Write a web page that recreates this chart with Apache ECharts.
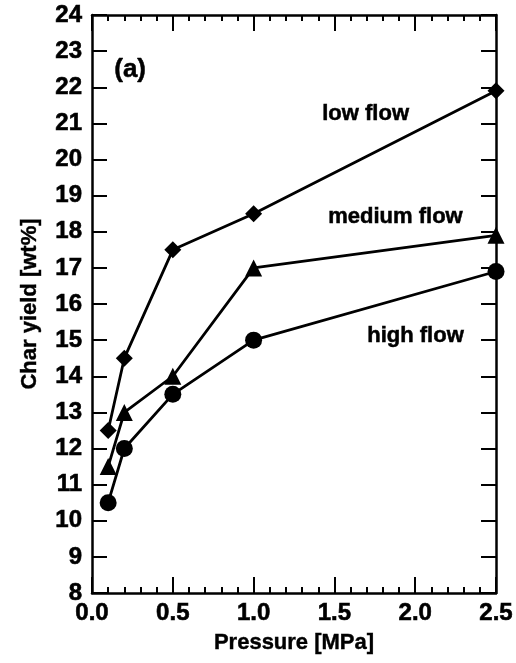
<!DOCTYPE html>
<html>
<head>
<meta charset="utf-8">
<script src="https://cdn.jsdelivr.net/npm/echarts@6/dist/echarts.min.js"></script>
<style>
  html, body { margin: 0; padding: 0; background: #fff; }
  #chart { width: 516px; height: 663px; }
</style>
</head>
<body>
<div id="chart"></div>
<script>
// pressure [MPa]
const pressure = [0.1, 0.2, 0.5, 1.0, 2.5]
// char yield [wt%]
const lowFlow = [12.5, 14.5, 17.5, 18.5, 21.9]
const mediumFlow = [11.5, 13.0, 14.0, 17.0, 17.9]
const highFlow = [10.5, 12.0, 13.5, 15.0, 16.9]

const seriesNames = ['low flow', 'medium flow', 'high flow']
const panelLabel = '(a)'

const font = 'Liberation Sans, Arial, sans-serif'
const pair = (ys) => pressure.map((x, i) => [x, ys[i]])
// scanned text looks a bit heavier than plain bold
const heavy = { textBorderColor: '#000', textBorderWidth: 0.6 }

const chart = echarts.init(document.getElementById('chart'))

const xBase = {
  type: 'value',
  min: 0,
  max: 2.5,
  interval: 0.5,
  axisLine: { show: true, onZero: false, lineStyle: { color: '#000', width: 2.5 } },
  axisTick: { show: true, inside: true, length: 16, lineStyle: { color: '#000', width: 2 } },
  minorTick: { show: true, splitNumber: 5, length: 6, lineStyle: { color: '#000', width: 2 } },
  splitLine: { show: false },
}
const yBase = {
  type: 'value',
  min: 8,
  max: 24,
  interval: 1,
  axisLine: { show: true, onZero: false, lineStyle: { color: '#000', width: 2.5 } },
  axisTick: { show: true, inside: true, length: 15, lineStyle: { color: '#000', width: 2 } },
  splitLine: { show: false },
}

const lineSeries = (name, data, symbol, size) => ({
  name,
  type: 'line',
  data: pair(data),
  symbol,
  symbolSize: size,
  lineStyle: { color: '#000', width: 2.8 },
  itemStyle: { color: '#000' },
  z: 3,
})

const textEl = (text, left, top, size) => ({
  type: 'text',
  left,
  top,
  style: { text, fontFamily: font, fontSize: size, fontWeight: 'bold', fill: '#000', stroke: '#000', lineWidth: 0.5 },
})

const option = {
  animation: false,
  backgroundColor: '#fff',
  grid: { left: 92, right: 19, top: 15, bottom: 70 },
  xAxis: [
    {
      ...xBase,
      position: 'bottom',
      name: 'Pressure [MPa]',
      nameLocation: 'middle',
      nameGap: 39,
      nameTextStyle: { fontFamily: font, fontSize: 22, fontWeight: 'bold', color: '#000', ...heavy, textBorderWidth: 0.4 },
      axisLabel: {
        fontFamily: font, fontSize: 24, fontWeight: 'bold', color: '#000', margin: 8, ...heavy,
        formatter: (v) => v.toFixed(1),
      },
    },
    { ...xBase, position: 'top', axisLabel: { show: false } },
  ],
  yAxis: [
    {
      ...yBase,
      position: 'left',
      name: 'Char yield [wt%]',
      nameLocation: 'middle',
      nameGap: 51,
      nameTextStyle: { fontFamily: font, fontSize: 22, fontWeight: 'bold', color: '#000', ...heavy, textBorderWidth: 0.4 },
      axisLabel: { fontFamily: font, fontSize: 24, fontWeight: 'bold', color: '#000', margin: 10, ...heavy },
    },
    { ...yBase, position: 'right', axisLabel: { show: false } },
  ],
  series: [
    lineSeries(seriesNames[0], lowFlow, 'diamond', [17, 17]),
    lineSeries(seriesNames[1], mediumFlow, 'triangle', 17),
    lineSeries(seriesNames[2], highFlow, 'circle', 17),
  ],
  graphic: [
    textEl(panelLabel, 114, 57, 26),
    textEl(seriesNames[0], 322, 103, 22),
    textEl(seriesNames[1], 328, 206, 22),
    textEl(seriesNames[2], 367, 325, 22),
  ],
}

chart.setOption(option)
window.addEventListener('resize', () => chart.resize())
</script>
</body>
</html>
